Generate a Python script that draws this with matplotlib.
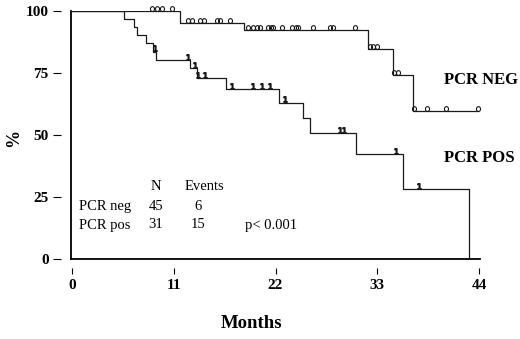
import numpy as np
import matplotlib
matplotlib.use("Agg")
import matplotlib.pyplot as plt
from matplotlib.path import Path
from matplotlib.markers import MarkerStyle
from matplotlib.transforms import offset_copy

# PCR negative group: event times (months), survival after each event (%)
neg_times = [11.7, 18.6, 32.0, 34.7, 36.9]
neg_surv = [95.3, 92.3, 84.6, 74.1, 59.7]
neg_end = 43.9
neg_censored = [8.65, 9.19, 9.73, 10.81,
                12.54, 12.97, 13.84, 14.27, 15.68, 16.0, 17.08,
                19.03, 19.57, 20.0, 20.32, 21.19, 21.51, 21.73, 22.7, 23.78,
                24.22, 24.43, 26.05, 27.89, 28.22, 30.59,
                32.2, 32.5, 32.97, 34.8, 35.2, 37.0, 38.4, 40.4, 43.9]

# PCR positive group
pos_times = [5.6, 6.7, 7.0, 8.0, 8.8, 9.1, 12.8, 13.5, 16.6, 22.4, 25.0,
             25.7, 30.7, 35.8, 42.9]
pos_surv = [96.8, 93.7, 90.3, 87.0, 83.6, 80.2, 76.9, 72.9, 68.4, 63.0,
            56.7, 50.7, 42.3, 28.1, 0]
pos_censored = [8.97, 12.54, 13.3, 13.6, 14.4, 17.3, 19.6, 20.5, 21.4, 23.0,
                29.0, 29.4, 35.0, 37.5]

xticks = [0, 11, 22, 33, 44]
yticks = [0, 25, 50, 75, 100]

table_rows = [["", "N", "Events", ""],
              ["PCR neg", "45", "6", ""],
              ["PCR pos", "31", "15", "p< 0.001"]]

serif = ["Liberation Serif", "DejaVu Serif"]
plt.rcParams['font.family'] = serif


def surv_at(t, times, surv):
    i = np.searchsorted(times, t, side='right')
    return 100.0 if i == 0 else surv[i - 1]


fig = plt.figure(figsize=(5.2, 3.39), dpi=100)
ax = fig.add_axes([71 / 520, 1 - 259 / 339, 409 / 520, 248 / 339])
ax.set_xlim(-0.1, 44.1)
ax.set_ylim(0, 100)

ax.step([0] + neg_times + [neg_end], [100] + neg_surv + [neg_surv[-1]],
        where='post', color='#1a1a1a', lw=0.9)
ax.step([0] + pos_times, [100] + pos_surv, where='post', color='#1a1a1a', lw=0.9)

# censor marks: "0" ovals for negatives, "1" for positives, sitting on the line
th = np.linspace(0, 2 * np.pi, 40)
oval = Path(np.column_stack([0.42 * np.sin(th), 0.5 + 0.5 * np.cos(th)]))
ny = [surv_at(t, neg_times, neg_surv) for t in neg_censored]
ax.plot(neg_censored, ny, ls='none', marker=MarkerStyle(oval), ms=7,
        mfc='none', mec='#1a1a1a', mew=0.8, clip_on=False)

up = offset_copy(ax.transData, fig=fig, y=2.5, units='points')
py = [surv_at(t, pos_times, pos_surv) for t in pos_censored]
ax.plot(pos_censored, py, ls='none', marker='$1$', ms=4, color='#1a1a1a',
        transform=up, clip_on=False)

for s in ['top', 'right']:
    ax.spines[s].set_visible(False)
for s in ['left', 'bottom']:
    ax.spines[s].set_linewidth(1.3)
ax.set_xticks([])
ax.set_yticks([])

sx = ax.secondary_xaxis(-0.036)
sx.set_xticks(xticks)
sx.set_xticklabels([str(v) for v in xticks], fontsize=11, fontweight='bold')
sx.spines['bottom'].set_visible(False)
sx.tick_params(length=4, width=0.8, pad=4)

sy = ax.secondary_yaxis(-0.024)
sy.set_yticks(yticks)
sy.set_yticklabels([str(v) for v in yticks], fontsize=11, fontweight='bold')
sy.spines['left'].set_visible(False)
sy.tick_params(length=6, width=0.8, pad=3)

fig.text(252 / 520, 1 - 323 / 339, "Months", fontsize=13.5, fontweight='bold',
         ha='center', va='center')
fig.text(14 / 520, 1 - 138 / 339, "%", fontsize=13, fontweight='bold',
         rotation=90, ha='center', va='center')

fig.text(444 / 520, 1 - 80 / 339, "PCR NEG", fontsize=12, fontweight='bold',
         ha='left', va='center')
fig.text(444 / 520, 1 - 158 / 339, "PCR POS", fontsize=12, fontweight='bold',
         ha='left', va='center')

col_x = [79, 156, 185, 245]
col_ha = ['left', 'center', 'left', 'left']
row_y = [187, 207, 225]
for r, row in enumerate(table_rows):
    for c, txt in enumerate(row):
        if not txt:
            continue
        x = col_x[c]
        ha = col_ha[c]
        if r > 0 and c == 2:
            x, ha = 198, 'center'
        fig.text(x / 520, 1 - row_y[r] / 339, txt, fontsize=10.5,
                 ha=ha, va='center')

fig.savefig("out.png", dpi=100)
